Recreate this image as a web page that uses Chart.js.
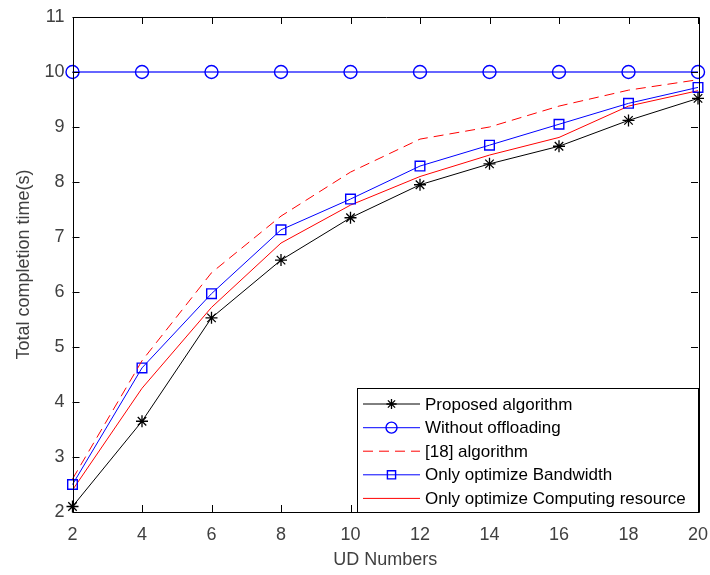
<!DOCTYPE html>
<html>
<head>
<meta charset="utf-8">
<script src="https://cdn.jsdelivr.net/npm/chart.js@4/dist/chart.umd.min.js"></script>
<style>
  html, body { margin: 0; padding: 0; background: #fff; }
  #wrap { width: 710px; height: 575px; }
</style>
</head>
<body>
<div id="wrap"><canvas id="c" width="710" height="575"></canvas></div>
<script>
// UD numbers on the x axis
const udNumbers = [2, 4, 6, 8, 10, 12, 14, 16, 18, 20];

// completion time (s) per method
const proposed      = [2.10, 3.65, 5.53, 6.58, 7.35, 7.95, 8.33, 8.65, 9.12, 9.52];
const noOffloading  = [10, 10, 10, 10, 10, 10, 10, 10, 10, 10];
const ref18         = [2.60, 4.75, 6.35, 7.38, 8.18, 8.78, 9.00, 9.38, 9.67, 9.86];
const onlyBandwidth = [2.50, 4.62, 5.97, 7.13, 7.69, 8.29, 8.67, 9.05, 9.43, 9.72];
const onlyCompute   = [2.40, 4.25, 5.72, 6.89, 7.58, 8.10, 8.49, 8.81, 9.38, 9.66];

const xTicks = [2, 4, 6, 8, 10, 12, 14, 16, 18, 20];
const yTicks = [2, 3, 4, 5, 6, 7, 8, 9, 10, 11];

const toPoints = (vals) => vals.map((v, i) => ({ x: udNumbers[i], y: v }));

const TICK_FONT = "Arial, 'Liberation Sans', sans-serif";
const TEXT_COLOR = '#404040';

// box + inward tick marks, MATLAB style
const boxPlugin = {
  id: 'box',
  afterDraw(chart) {
    const { ctx, chartArea: a, scales } = chart;
    ctx.save();
    ctx.strokeStyle = '#000';
    ctx.lineWidth = 1;
    ctx.beginPath();
    ctx.rect(Math.round(a.left) + 0.5, Math.round(a.top) + 0.5,
      Math.round(a.right - a.left), Math.round(a.bottom - a.top));
    const len = 7;
    xTicks.forEach(t => {
      const px = Math.round(scales.x.getPixelForValue(t)) + 0.5;
      ctx.moveTo(px, a.bottom); ctx.lineTo(px, a.bottom - len);
      ctx.moveTo(px, a.top); ctx.lineTo(px, a.top + len);
    });
    yTicks.forEach(t => {
      const py = Math.round(scales.y.getPixelForValue(t)) + 0.5;
      ctx.moveTo(a.left, py); ctx.lineTo(a.left + len, py);
      ctx.moveTo(a.right, py); ctx.lineTo(a.right - len, py);
    });
    ctx.stroke();
    ctx.restore();
  }
};

// legend box in the lower right corner
const legendPlugin = {
  id: 'boxLegend',
  afterDraw(chart) {
    const { ctx, chartArea: a } = chart;
    const w = 341, h = 124;
    const x0 = Math.round(a.right) - w, y0 = Math.round(a.bottom) - h;
    ctx.save();
    ctx.fillStyle = '#fff';
    ctx.fillRect(x0, y0, w, h);
    ctx.strokeStyle = '#000';
    ctx.lineWidth = 1;
    ctx.strokeRect(x0 + 0.5, y0 + 0.5, w, h);
    ctx.font = '17px ' + TICK_FONT;
    ctx.textBaseline = 'middle';
    chart.data.datasets.forEach((ds, i) => {
      const y = y0 + 16 + i * 23.6;
      const lx1 = x0 + 6, lx2 = x0 + 63, mx = (lx1 + lx2) / 2;
      ctx.strokeStyle = ds.borderColor;
      ctx.lineWidth = ds.borderWidth;
      ctx.setLineDash(ds.borderDash || []);
      ctx.beginPath();
      ctx.moveTo(lx1, y); ctx.lineTo(lx2, y);
      ctx.stroke();
      ctx.setLineDash([]);
      if (ds.pointStyle && ds.pointRadius > 0) {
        ctx.lineWidth = ds.pointBorderWidth;
        ctx.strokeStyle = ds.pointBorderColor;
        ctx.fillStyle = 'rgba(0,0,0,0)';
        Chart.helpers.drawPoint(ctx, { pointStyle: ds.pointStyle, radius: ds.pointRadius * 0.85, borderWidth: ds.pointBorderWidth }, mx, y);
      }
      ctx.fillStyle = '#000';
      ctx.fillText(ds.label, x0 + 68, y + 1);
    });
    ctx.restore();
  }
};

new Chart(document.getElementById('c'), {
  type: 'line',
  data: {
    datasets: [
      {
        label: 'Proposed algorithm',
        data: toPoints(proposed),
        borderColor: '#000', borderWidth: 1,
        pointStyle: 'star', pointRadius: 6, pointBorderWidth: 1.3,
        pointBorderColor: '#000', pointBackgroundColor: 'transparent'
      },
      {
        label: 'Without offloading',
        data: toPoints(noOffloading),
        borderColor: '#3333ff', borderWidth: 1.3,
        pointStyle: 'circle', pointRadius: 6.5, pointBorderWidth: 1.4,
        pointBorderColor: '#0000ff', pointBackgroundColor: 'transparent'
      },
      {
        label: '[18] algorithm',
        data: toPoints(ref18),
        borderColor: '#ff0000', borderWidth: 1, borderDash: [10, 6],
        pointRadius: 0
      },
      {
        label: 'Only optimize Bandwidth',
        data: toPoints(onlyBandwidth),
        borderColor: '#0000ff', borderWidth: 1,
        pointStyle: 'rect', pointRadius: 6.8, pointBorderWidth: 1.4,
        pointBorderColor: '#0000ff', pointBackgroundColor: 'transparent'
      },
      {
        label: 'Only optimize Computing resource',
        data: toPoints(onlyCompute),
        borderColor: '#ff0000', borderWidth: 1,
        pointRadius: 0
      }
    ]
  },
  options: {
    responsive: false,
    animation: false,
    layout: { padding: { top: 17, right: 12, left: 0, bottom: 0 } },
    elements: { line: { tension: 0 } },
    datasets: { line: { clip: false } },
    plugins: { legend: { display: false }, tooltip: { enabled: false } },
    scales: {
      x: {
        type: 'linear', min: 2, max: 20,
        afterFit(s) { s.height = 63; s.paddingLeft = 0; s.paddingRight = 0; },
        afterBuildTicks(s) { s.ticks = xTicks.map(v => ({ value: v })); },
        grid: { display: false, drawTicks: false },
        border: { display: false },
        ticks: { color: TEXT_COLOR, font: { family: TICK_FONT, size: 18 }, padding: 12, maxRotation: 0 },
        title: { display: true, text: 'UD Numbers', color: TEXT_COLOR, font: { family: TICK_FONT, size: 18 }, padding: { top: 2 } }
      },
      y: {
        min: 2, max: 11,
        afterFit(s) { s.width = 72.5; s.paddingTop = 0; s.paddingBottom = 0; },
        afterBuildTicks(s) { s.ticks = yTicks.map(v => ({ value: v })); },
        grid: { display: false, drawTicks: false },
        border: { display: false },
        ticks: { color: TEXT_COLOR, font: { family: TICK_FONT, size: 18 }, padding: 8 },
        title: { display: true, text: 'Total completion time(s)', color: TEXT_COLOR, font: { family: TICK_FONT, size: 18 }, padding: { top: 13, bottom: 0 } }
      }
    }
  },
  plugins: [boxPlugin, legendPlugin]
});
</script>
</body>
</html>
